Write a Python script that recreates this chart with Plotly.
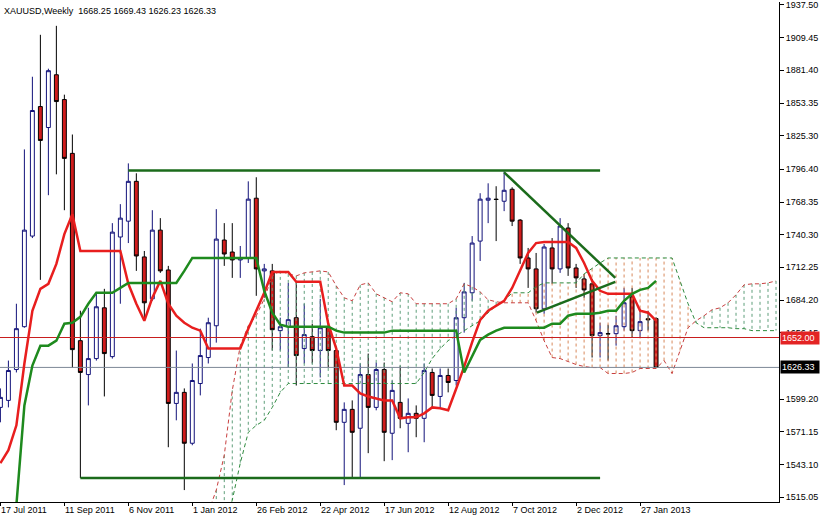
import pandas as pd
import plotly.graph_objects as go

START = "2011-07-17"
N_FUTURE = 98  # weekly slots incl. the projected cloud

# ---- weekly OHLC (bars 0..82) ----
open_ = [1592.0, 1598.0, 1624.5, 1661.3, 1739.1, 1850.3, 1832.3, 1877.6, 1856.3, 1810.1,
         1649.3, 1620.2, 1633.9, 1677.5, 1635.6, 1738.3, 1751.9, 1786.1, 1721.2, 1685.2,
         1744.2, 1710.0, 1595.4, 1604.9, 1561.2, 1612.5, 1634.8, 1662.1, 1735.7, 1725.4,
         1718.6, 1720.3, 1771.6, 1709.2, 1709.2, 1657.9, 1661.3, 1669.0, 1642.5, 1652.7,
         1640.8, 1660.4, 1640.8, 1579.2, 1590.3, 1574.1, 1620.2, 1592.0, 1624.5, 1569.8,
         1596.3, 1578.3, 1586.9, 1582.6, 1622.0, 1601.4, 1619.4, 1615.1, 1669.0, 1690.4,
         1734.8, 1769.9, 1770.8, 1769.0, 1779.3, 1752.8, 1720.3, 1710.9, 1676.7, 1728.9,
         1710.9, 1746.0, 1711.7, 1702.3, 1698.1, 1653.6, 1655.3, 1655.3, 1661.3, 1686.9,
         1657.9, 1668.1, 1668.25]
high = [1608.3, 1632.2, 1681.0, 1813.5, 1875.9, 1911.9, 1882.8, 1919.6, 1860.5, 1826.3,
        1675.0, 1677.5, 1690.4, 1693.8, 1750.2, 1766.5, 1801.5, 1793.0, 1726.3, 1761.3,
        1754.5, 1713.5, 1640.8, 1608.3, 1629.7, 1659.6, 1669.0, 1762.2, 1750.2, 1750.2,
        1730.6, 1786.1, 1789.6, 1715.2, 1715.2, 1669.0, 1698.9, 1698.9, 1681.0, 1663.9,
        1685.2, 1666.4, 1643.3, 1596.3, 1598.0, 1629.7, 1638.2, 1630.5, 1630.5, 1615.1,
        1627.9, 1599.7, 1593.7, 1629.7, 1625.4, 1625.4, 1625.4, 1677.5, 1698.9, 1739.1,
        1775.9, 1784.4, 1781.9, 1794.7, 1781.0, 1753.7, 1728.9, 1724.6, 1732.3, 1737.4,
        1754.5, 1750.2, 1715.2, 1706.6, 1702.3, 1664.7, 1663.0, 1670.7, 1694.6, 1694.6,
        1676.7, 1675.0, 1669.43]
low = [1579.2, 1592.0, 1622.0, 1660.4, 1737.4, 1701.5, 1774.2, 1792.1, 1761.3, 1626.2,
       1531.3, 1593.7, 1632.2, 1601.4, 1633.9, 1681.0, 1733.1, 1709.2, 1666.4, 1683.5,
       1707.5, 1557.8, 1580.9, 1521.0, 1559.5, 1602.3, 1629.7, 1647.6, 1713.5, 1703.2,
       1703.2, 1716.0, 1687.8, 1686.1, 1640.8, 1640.8, 1626.2, 1610.8, 1629.7, 1629.7,
       1617.7, 1626.2, 1572.4, 1525.3, 1531.3, 1531.3, 1552.7, 1589.5, 1545.8, 1546.7,
       1574.1, 1553.5, 1566.4, 1562.1, 1591.2, 1591.2, 1604.9, 1610.8, 1656.2, 1683.5,
       1717.7, 1750.2, 1734.8, 1760.5, 1747.7, 1715.2, 1694.6, 1673.3, 1672.4, 1698.1,
       1707.5, 1704.9, 1694.6, 1686.1, 1634.8, 1634.8, 1632.2, 1645.0, 1657.9, 1651.9,
       1651.9, 1657.9, 1626.23]
close = [1600.6, 1623.7, 1659.6, 1744.2, 1846.9, 1821.2, 1881.1, 1854.6, 1805.8, 1641.6,
         1622.0, 1633.9, 1678.4, 1638.2, 1742.5, 1754.5, 1786.1, 1722.0, 1681.8, 1744.2,
         1709.2, 1595.4, 1604.9, 1561.2, 1615.1, 1636.5, 1664.7, 1736.5, 1723.7, 1718.6,
         1720.3, 1770.8, 1710.9, 1710.9, 1658.7, 1661.3, 1667.3, 1636.5, 1654.5, 1640.8,
         1660.4, 1640.8, 1579.2, 1590.3, 1570.6, 1620.2, 1592.0, 1624.5, 1570.6, 1606.6,
         1582.6, 1586.9, 1582.6, 1623.7, 1602.3, 1619.4, 1613.4, 1669.0, 1691.2, 1733.1,
         1770.8, 1771.6, 1770.5, 1778.4, 1751.9, 1720.3, 1710.9, 1676.7, 1729.7, 1710.9,
         1747.7, 1711.7, 1703.2, 1692.9, 1653.6, 1656.2, 1655.1, 1662.1, 1681.8, 1657.9,
         1665.6, 1667.3, 1626.33]

# ---- Ichimoku lines ----
tenkan = [1544.1, 1555.3, 1576.6, 1629.7, 1675.0, 1693.8, 1698.1, 1715.2, 1740.8, 1757.9,
          1726.3, 1726.3, 1726.3, 1726.3, 1726.3, 1726.3, 1698.1, 1681.0, 1666.4, 1686.1,
          1700.6, 1681.0, 1670.7, 1664.7, 1660.4, 1657.9, 1642.5, 1642.5, 1642.5, 1642.5,
          1642.5, 1659.6, 1675.0, 1690.4, 1708.3, 1708.3, 1708.3, 1699.8, 1699.8, 1699.8,
          1699.8, 1663.9, 1642.5, 1610.8, 1610.8, 1604.0, 1601.4, 1599.7, 1598.0, 1598.0,
          1582.6, 1583.5, 1583.5, 1586.9, 1592.0, 1591.2, 1589.5, 1608.0, 1627.0, 1648.0,
          1667.0, 1675.0, 1679.3, 1683.5, 1694.6, 1709.2, 1724.6, 1733.1, 1734.0, 1734.0,
          1734.0, 1734.0, 1728.9, 1716.0, 1700.6, 1692.1, 1689.5, 1689.5, 1689.5, 1689.5,
          1675.0, 1673.3, 1666.4]
kijun = [1461.2, 1486.8, 1508.2, 1593.7, 1627.9, 1645.0, 1645.0, 1649.3, 1663.9, 1664.7,
         1669.8, 1681.0, 1690.4, 1690.4, 1690.4, 1694.6, 1698.9, 1698.9, 1698.9, 1698.9,
         1698.9, 1698.9, 1698.9, 1709.2, 1720.3, 1720.3, 1720.3, 1720.3, 1720.3, 1720.3,
         1720.3, 1720.3, 1720.3, 1692.1, 1673.3, 1663.0, 1661.3, 1661.3, 1661.3, 1661.3,
         1661.3, 1661.3, 1657.9, 1656.2, 1656.2, 1656.2, 1656.2, 1656.2, 1656.2, 1657.9,
         1657.9, 1657.9, 1657.9, 1657.9, 1657.9, 1657.9, 1657.9, 1657.9, 1622.0, 1636.0,
         1650.0, 1654.5, 1657.9, 1660.4, 1660.4, 1660.4, 1660.4, 1660.4, 1660.4, 1663.9,
         1663.9, 1670.7, 1672.4, 1672.4, 1672.4, 1673.3, 1675.0, 1675.0, 1683.5, 1689.5,
         1692.9, 1694.6, 1700.6]
SPAN_FIRST = 26  # cloud values start at bar 26 and run to bar 97
span_a = [1502.2, 1521.0, 1551.0, 1606.6, 1645.0, 1662.1, 1670.7, 1685.2, 1704.9, 1709.2,
          1706.6, 1704.9, 1707.5, 1708.3, 1709.2, 1708.3, 1696.4, 1686.1, 1683.5, 1697.2,
          1698.9, 1689.5, 1686.1, 1682.7, 1690.4, 1689.5, 1681.0, 1681.0, 1681.0, 1681.0,
          1681.0, 1685.2, 1698.1, 1695.5, 1691.2, 1684.4, 1682.7, 1681.8, 1681.8, 1681.8,
          1681.8, 1666.4, 1649.3, 1634.8, 1633.9, 1631.4, 1628.8, 1627.1, 1626.2, 1626.2,
          1621.1, 1621.1, 1621.1, 1622.0, 1625.4, 1625.4, 1625.4, 1632.2, 1621.1, 1640.8,
          1660.4, 1666.4, 1670.7, 1675.8, 1677.5, 1681.8, 1688.7, 1697.2, 1698.1, 1698.1,
          1698.9, 1700.6]
span_b = [1435.5, 1461.2, 1486.8, 1512.5, 1544.1, 1570.6, 1576.6, 1580.9, 1592.0, 1604.9,
          1612.5, 1612.5, 1612.5, 1612.5, 1612.5, 1612.5, 1612.5, 1612.5, 1612.5, 1612.5,
          1612.5, 1612.5, 1612.5, 1612.5, 1612.5, 1612.5, 1612.5, 1622.0, 1633.9, 1642.5,
          1649.3, 1653.6, 1657.9, 1662.1, 1666.4, 1673.3, 1679.3, 1683.5, 1690.4, 1690.4,
          1690.4, 1695.5, 1698.9, 1698.9, 1698.9, 1698.9, 1698.9, 1706.6, 1711.7, 1716.0,
          1720.3, 1720.3, 1720.3, 1720.3, 1720.3, 1720.3, 1720.3, 1720.3, 1720.3, 1700.6,
          1681.0, 1664.7, 1660.4, 1660.4, 1660.4, 1660.4, 1659.6, 1659.6, 1657.9, 1657.9,
          1657.9, 1657.9]

# ---- drawn objects (bar index, price) ----
resistance_bars, resistance_px = [16, 75], [1795.5, 1795.5]
support_bars, support_px = [10, 75], [1531.3, 1531.3]
down_trend_bars, down_trend_px = [63, 76.9], [1793.8, 1703.2]
up_trend_bars, up_trend_px = [67.1, 76.9], [1673.3, 1699.8]
red_level = 1652.00
bid_level = 1626.33

x_tick_bars = [0, 8, 16, 24, 32, 40, 48, 56, 64, 72, 80]
x_tick_labels = ["17 Jul 2011", "11 Sep 2011", "6 Nov 2011", "1 Jan 2012", "26 Feb 2012",
                 "22 Apr 2012", "17 Jun 2012", "12 Aug 2012", "7 Oct 2012", "2 Dec 2012",
                 "27 Jan 2013"]
y_ticks = [1937.50, 1909.45, 1881.40, 1853.35, 1825.30, 1796.40, 1768.35, 1740.30, 1712.25,
           1684.20, 1656.15, 1599.20, 1571.15, 1543.10, 1515.05]
title_text = "XAUUSD,Weekly\u00a0 1668.25 1669.43 1626.23 1626.33"

FONT = "Tahoma, 'Liberation Sans', Arial, sans-serif"
start = pd.Timestamp(START)


def bar_date(b):
    return start + pd.Timedelta(days=7 * b)


weeks = [bar_date(i) for i in range(N_FUTURE)]
n = len(close)
cloud_x = weeks[SPAN_FIRST:SPAN_FIRST + len(span_a)]

fig = go.Figure()

# cloud hatching (vertical dashed strokes at every bar)
gx, gy, rx, ry = [], [], [], []
for d, a, b in zip(cloud_x, span_a, span_b):
    if a >= b:
        gx += [d, d, None]; gy += [a, b, None]
    else:
        rx += [d, d, None]; ry += [a, b, None]
fig.add_trace(go.Scatter(x=gx, y=gy, mode="lines", connectgaps=False,
                         line=dict(color="#5E9E7A", width=1, dash="3px,3px"), hoverinfo="skip"))
fig.add_trace(go.Scatter(x=rx, y=ry, mode="lines", connectgaps=False,
                         line=dict(color="#D8895C", width=1, dash="3px,3px"), hoverinfo="skip"))
fig.add_trace(go.Scatter(x=cloud_x, y=span_a, mode="lines",
                         line=dict(color="#C84040", width=1, dash="4px,3px"), hoverinfo="skip"))
fig.add_trace(go.Scatter(x=cloud_x, y=span_b, mode="lines",
                         line=dict(color="#2E8B3E", width=1, dash="4px,3px"), hoverinfo="skip"))

# horizontal levels
x_full = [bar_date(-2), bar_date(N_FUTURE + 2)]
fig.add_trace(go.Scatter(x=x_full, y=[red_level, red_level], mode="lines",
                         line=dict(color="#C81E1E", width=1), hoverinfo="skip"))
fig.add_trace(go.Scatter(x=x_full, y=[bid_level, bid_level], mode="lines",
                         line=dict(color="#7D8896", width=1), hoverinfo="skip"))

# candles
fig.add_trace(go.Candlestick(
    x=weeks[:n], open=open_, high=high, low=low, close=close,
    increasing=dict(line=dict(color="#12127A", width=1), fillcolor="#FFFFFF"),
    decreasing=dict(line=dict(color="#000000", width=1), fillcolor="#D01C1C"),
    whiskerwidth=0, hoverinfo="skip"))

# tenkan / kijun
fig.add_trace(go.Scatter(x=weeks[:n], y=tenkan, mode="lines",
                         line=dict(color="#E81E1E", width=2.5), hoverinfo="skip"))
fig.add_trace(go.Scatter(x=weeks[:n], y=kijun, mode="lines",
                         line=dict(color="#1E8A1E", width=2.5), hoverinfo="skip"))

# drawn lines
for bars, px in [(resistance_bars, resistance_px), (support_bars, support_px),
                 (down_trend_bars, down_trend_px), (up_trend_bars, up_trend_px)]:
    fig.add_trace(go.Scatter(x=[bar_date(b) for b in bars], y=px, mode="lines",
                             line=dict(color="#1B6B1B", width=2.5), hoverinfo="skip"))

annotations = []
for b, t in zip(x_tick_bars, x_tick_labels):
    annotations.append(dict(x=bar_date(b), y=0, xref="x", yref="paper", text=t,
                            showarrow=False, xanchor="left", yanchor="top", yshift=-1,
                            xshift=-1, font=dict(family=FONT, size=9, color="#000000")))
annotations.append(dict(x=0, y=1, xref="paper", yref="paper", text=title_text, showarrow=False,
                        xanchor="left", yanchor="top", xshift=2, yshift=-2,
                        font=dict(family=FONT, size=9, color="#000000")))
for lvl, bg in [(red_level, "#E32424"), (bid_level, "#000000")]:
    annotations.append(dict(x=1, y=lvl, xref="paper", yref="y", text=f"{lvl:.2f}",
                            showarrow=False, xanchor="left", yanchor="middle", xshift=1,
                            bgcolor=bg, borderpad=1, width=36, align="left",
                            font=dict(family=FONT, size=9, color="#FFFFFF")))

fig.update_layout(
    width=820, height=518,
    margin=dict(l=0, r=41, t=0, b=16),
    paper_bgcolor="#FFFFFF", plot_bgcolor="#FFFFFF",
    showlegend=False, hovermode=False,
    annotations=annotations,
    xaxis=dict(type="date", range=[bar_date(-0.05), bar_date(97.375)],
               rangeslider=dict(visible=False), showgrid=False, zeroline=False,
               showline=True, linecolor="#000000", linewidth=1,
               ticks="outside", ticklen=3, tickcolor="#000000",
               tickvals=[bar_date(b) for b in x_tick_bars], showticklabels=False),
    yaxis=dict(side="right", range=[1510.77, 1940.07], showgrid=False, zeroline=False,
               showline=True, linecolor="#000000", linewidth=1,
               ticks="outside", ticklen=4, tickcolor="#000000",
               tickvals=y_ticks, ticktext=[f"{v:.2f}" for v in y_ticks],
               ticklabeloverflow="allow",
               tickfont=dict(family=FONT, size=9, color="#000000")),
)

fig.write_html("out.html", config={"displayModeBar": False},
               post_script="document.body.style.margin='0';document.body.style.overflow='hidden';")
